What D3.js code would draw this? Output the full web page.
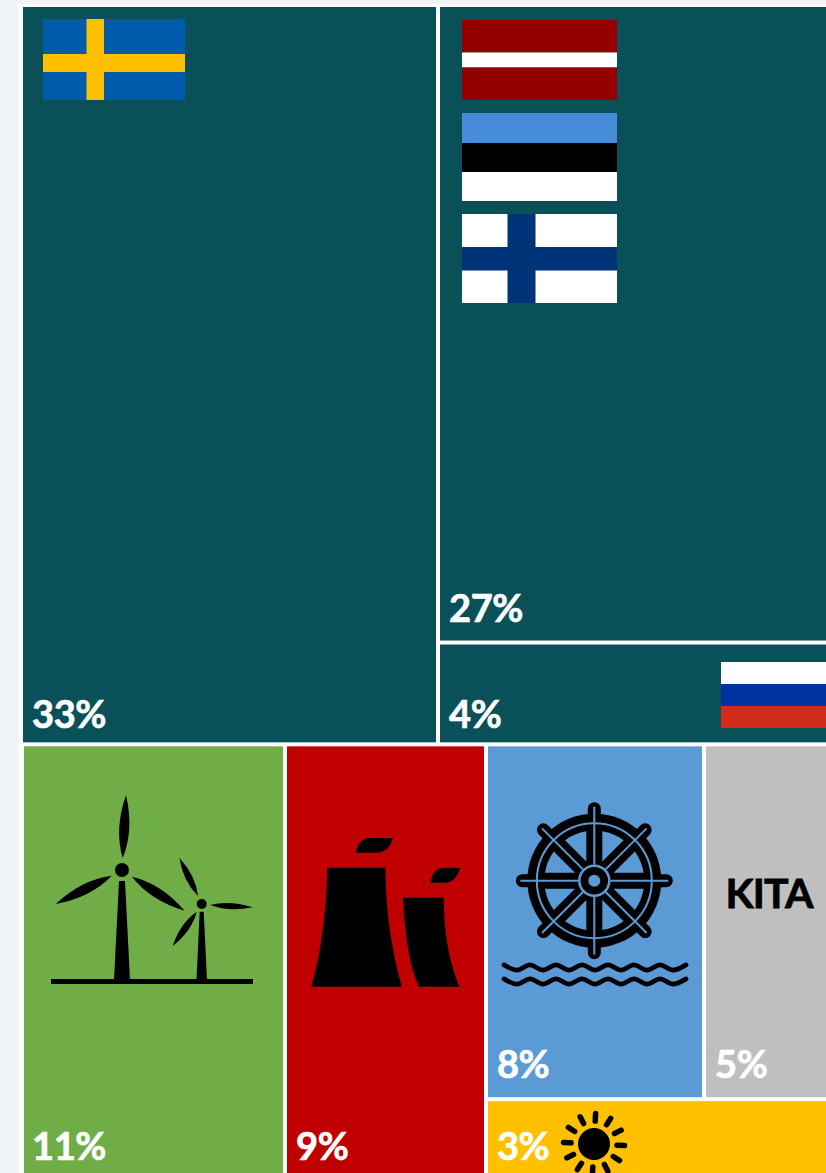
<!DOCTYPE html>
<html>
<head>
<meta charset="utf-8">
<script src="https://cdn.jsdelivr.net/npm/d3@7"></script>
<style>
html, body { margin: 0; padding: 0; background: #f0f4f8; overflow: hidden; }
svg { display: block; }
text { font-family: Lato, sans-serif; font-weight: 700; }
</style>
</head>
<body>
<script>
//
// DATA
//
// Cell areas, share of the whole map in percent
var sweden_area = 32.2;
var baltic_area = 26.3;
var russia_area = 4.2;
var wind_area = 12.15;
var nuclear_area = 9.25;
var hydro_area = 8.08;
var other_area = 4.78;
var solar_area = 3.11;

var cell_names = ["sweden", "baltic", "russia", "wind", "nuclear", "hydro", "other", "solar"];
var cell_labels = ["33%", "27%", "4%", "11%", "9%", "8%", "5%", "3%"];
var cell_colors = ["#095058", "#095058", "#095058", "#70ad47", "#c00000", "#5b9bd5", "#bfbfbf", "#ffc000"];

//
// PARAMETERS
//
var width = 826, height = 1173;
var map_x = 23, map_y = 7; // top left corner of the map

// Baseline of each percent label, measured up from the bottom of its cell
var label_rise = { sweden: 14, baltic: 19, russia: 14, wind: 23, nuclear: 23, hydro: 19, other: 19, solar: 23 };

//
// LAYOUT
//
var svg = d3.select("body").append("svg")
    .attr("width", width)
    .attr("height", height);

svg.append("rect")
    .attr("x", 19).attr("y", 4)
    .attr("width", width - 19).attr("height", height - 4)
    .attr("fill", "#ffffff");

var tree = {
    name: "all", children: [
        { name: "top", children: [
            { name: "sweden", value: sweden_area },
            { name: "east", children: [
                { name: "baltic", value: baltic_area },
                { name: "russia", value: russia_area }
            ] }
        ] },
        { name: "bottom", children: [
            { name: "wind", value: wind_area },
            { name: "nuclear", value: nuclear_area },
            { name: "rest", children: [
                { name: "row", children: [
                    { name: "hydro", value: hydro_area },
                    { name: "other", value: other_area }
                ] },
                { name: "solar", value: solar_area }
            ] }
        ] }
    ]
};

var root = d3.hierarchy(tree).sum(function (d) { return d.value; });

d3.treemap()
    .tile(function (node, x0, y0, x1, y1) {
        (node.depth & 1 ? d3.treemapDice : d3.treemapSlice)(node, x0, y0, x1, y1);
    })
    .size([808, 1176])
    .paddingInner(4)(root);

var cells = {};
root.leaves().forEach(function (d) { cells[d.data.name] = d; });

var map = svg.append("g").attr("transform", "translate(" + map_x + "," + map_y + ")");

map.selectAll("rect.cell")
    .data(cell_names)
    .enter().append("rect")
    .attr("class", "cell")
    .attr("x", function (n) { return cells[n].x0; })
    .attr("y", function (n) { return cells[n].y0; })
    .attr("width", function (n) { return cells[n].x1 - cells[n].x0; })
    .attr("height", function (n) { return cells[n].y1 - cells[n].y0; })
    .attr("fill", function (n, i) { return cell_colors[i]; });

// The bottom row starts one pixel further in
svg.append("rect")
    .attr("x", 23).attr("y", 744)
    .attr("width", 1).attr("height", height - 744)
    .attr("fill", "#ffffff");

//
// FLAGS
//

// Horizontal stripes, weights are relative heights
function stripe_flag(x, y, w, h, colors, weights) {
    var sc = d3.scaleLinear().domain([0, d3.sum(weights)]).range([y, y + h]);
    var g = svg.append("g");
    var acc = 0;
    weights.forEach(function (v, i) {
        g.append("rect")
            .attr("x", x).attr("y", sc(acc))
            .attr("width", w).attr("height", sc(acc + v) - sc(acc))
            .attr("fill", colors[i]);
        acc += v;
    });
}

// Nordic cross, bars given in pixels from the flag corner
function cross_flag(x, y, w, h, field, bar, vx, vw, hy, hh) {
    var g = svg.append("g");
    g.append("rect").attr("x", x).attr("y", y).attr("width", w).attr("height", h).attr("fill", field);
    g.append("rect").attr("x", x + vx).attr("y", y).attr("width", vw).attr("height", h).attr("fill", bar);
    g.append("rect").attr("x", x).attr("y", y + hy).attr("width", w).attr("height", hh).attr("fill", bar);
}

cross_flag(43, 19, 142, 81, "#005bac", "#ffc000", 43.5, 17.5, 35, 18);
stripe_flag(462, 20, 155, 80, ["#940000", "#ffffff", "#940000"], [32.5, 15, 32.5]);
stripe_flag(462, 113, 155, 88, ["#468cd8", "#000000", "#ffffff"], [30, 29, 29]);
cross_flag(462, 214, 155, 89, "#ffffff", "#003478", 45.5, 28, 33, 23.5);
stripe_flag(721, 662, 110, 66, ["#ffffff", "#0033a0", "#d22b1c"], [22, 22, 22]);

//
// ICONS
//

// Pointed leaf between two points, w is the widest part
function blade(x0, y0, x1, y1, w) {
    var dx = x1 - x0, dy = y1 - y0, len = Math.sqrt(dx * dx + dy * dy);
    var nx = -dy / len * w, ny = dx / len * w;
    var mx = x0 + dx * 0.45, my = y0 + dy * 0.45;
    return "M" + x0 + "," + y0 +
        "Q" + (mx + nx) + "," + (my + ny) + " " + x1 + "," + y1 +
        "Q" + (mx - nx) + "," + (my - ny) + " " + x0 + "," + y0 + "Z";
}

var wind_icon = svg.append("g").attr("fill", "#000000");
wind_icon.append("rect").attr("x", 51).attr("y", 979).attr("width", 202).attr("height", 5);
wind_icon.append("circle").attr("cx", 122).attr("cy", 870).attr("r", 7);
wind_icon.append("path").attr("d", "M119,881L125,881L130,980L114,980Z");
wind_icon.append("path").attr("d", blade(122.7, 858, 126, 795, 10));
wind_icon.append("path").attr("d", blade(111.7, 875.7, 55.7, 904, 10));
wind_icon.append("path").attr("d", blade(132, 876.7, 184.7, 910.7, 10));
wind_icon.append("circle").attr("cx", 201.7).attr("cy", 904).attr("r", 5);
wind_icon.append("path").attr("d", "M199.7,911.7L203.7,911.7L207,980L196.5,980Z");
wind_icon.append("path").attr("d", blade(198, 896, 179.3, 857.7, 7));
wind_icon.append("path").attr("d", blade(210, 905, 252.7, 907.3, 6));
wind_icon.append("path").attr("d", blade(196.7, 911.7, 172.7, 946, 7));

var nuclear_icon = svg.append("g").attr("fill", "#000000");
nuclear_icon.append("path").attr("d", "M327.3,867.7L385.3,867.7Q386,930 401.7,986.7L311.3,986.7Q326,935 327.3,867.7Z");
nuclear_icon.append("path").attr("d", "M403,897.7L443.7,897.7Q444,950 459.3,986.7L419,986.7Q406,960 403,897.7Z");
nuclear_icon.append("path").attr("d", "M355.7,852.7C358,843 362,838 370,838L392.7,838C391,846 386,852.7 376,852.7Z");
nuclear_icon.append("path").attr("d", "M430,882.7C432,873 437,867.7 444,867.7L460,867.7C458,876 453,882.7 445,882.7Z");

// Ship's wheel, built around its hub
var helm_x = 594.3, helm_y = 880.7;
var helm = svg.append("g").attr("transform", "translate(" + helm_x + "," + helm_y + ")");
var spoke_angles = d3.range(8).map(function (i) { return i * 45; });

// One window of the wheel between the spokes at 0 and 45 degrees, clear of both
function wedge_path() {
    var r = 50, off = 8;
    var a0 = Math.asin(off / r), a1 = Math.PI / 4 - a0;
    var inner = off / Math.sin(Math.PI / 8);
    return "M" + (inner * Math.cos(Math.PI / 8)) + "," + (inner * Math.sin(Math.PI / 8)) +
        "L" + (r * Math.cos(a0)) + "," + (r * Math.sin(a0)) +
        "A" + r + "," + r + " 0 0 1 " + (r * Math.cos(a1)) + "," + (r * Math.sin(a1)) + "Z";
}

helm.append("circle").attr("r", 67).attr("fill", "#000000");
helm.selectAll("line.handle")
    .data(spoke_angles)
    .enter().append("line")
    .attr("class", "handle")
    .attr("x2", 72)
    .attr("transform", function (a) { return "rotate(" + a + ")"; })
    .attr("stroke", "#000000").attr("stroke-width", 13).attr("stroke-linecap", "round");
helm.append("circle").attr("r", 57.5).attr("fill", "none").attr("stroke", "#5b9bd5").attr("stroke-width", 2);
helm.selectAll("path.wedge")
    .data(spoke_angles)
    .enter().append("path")
    .attr("class", "wedge")
    .attr("fill", "#5b9bd5")
    .attr("d", wedge_path())
    .attr("transform", function (a) { return "rotate(" + a + ")"; });
helm.selectAll("line.spoke")
    .data(spoke_angles)
    .enter().append("line")
    .attr("class", "spoke")
    .attr("x1", 16).attr("x2", 74)
    .attr("transform", function (a) { return "rotate(" + a + ")"; })
    .attr("stroke", "#5b9bd5").attr("stroke-width", 2);
helm.append("circle").attr("r", 15).attr("fill", "none").attr("stroke", "#5b9bd5").attr("stroke-width", 2.5);
helm.append("circle").attr("r", 9.5).attr("fill", "none").attr("stroke", "#000000").attr("stroke-width", 6.5);
helm.append("circle").attr("r", 6).attr("fill", "#5b9bd5");

// Two wavy lines below the wheel
var wave_line = d3.line().curve(d3.curveMonotoneX);
function wave(y) {
    return wave_line(d3.range(15).map(function (i) {
        return [504 + i * 13, y + (i % 2 ? 2.6 : -2.6)];
    }));
}
[967.5, 981.5].forEach(function (y) {
    svg.append("path").attr("d", wave(y))
        .attr("fill", "none").attr("stroke", "#000000")
        .attr("stroke-width", 4.8).attr("stroke-linecap", "round");
});

var sun = svg.append("g").attr("transform", "translate(594,1144)");
sun.append("circle").attr("r", 16).attr("fill", "#000000");
sun.selectAll("line")
    .data(d3.range(12))
    .enter().append("line")
    .attr("x1", 23).attr("x2", 30.5)
    .attr("transform", function (i) { return "rotate(" + (i * 30 + 3) + ")"; })
    .attr("stroke", "#000000").attr("stroke-width", 5.5).attr("stroke-linecap", "round");

//
// TEXT
//
svg.append("text")
    .attr("x", 769).attr("y", 908)
    .attr("text-anchor", "middle")
    .attr("font-size", 41)
    .attr("fill", "#000000")
    .attr("stroke", "#000000").attr("stroke-width", 0.8)
    .attr("letter-spacing", -0.8)
    .text("KITA");

map.selectAll("text.pct")
    .data(cell_names)
    .enter().append("text")
    .attr("class", "pct")
    .attr("x", function (n) { return cells[n].x0 + 9; })
    .attr("y", function (n) { return cells[n].y1 - label_rise[n]; })
    .attr("font-size", 38)
    .attr("letter-spacing", -0.4)
    .attr("fill", "#ffffff")
    .attr("stroke", "#ffffff").attr("stroke-width", 0.7)
    .text(function (n, i) { return cell_labels[i]; });
</script>
</body>
</html>
